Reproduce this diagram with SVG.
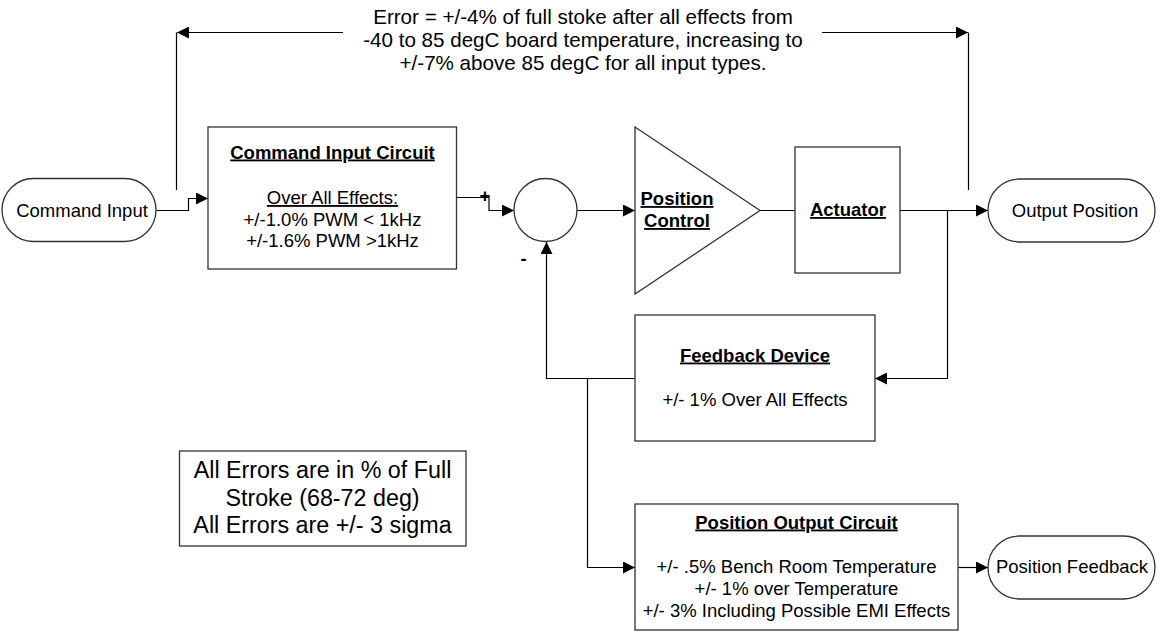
<svg xmlns="http://www.w3.org/2000/svg" width="1161" height="634" viewBox="0 0 1161 634">
<defs>
<marker id="arr" markerUnits="userSpaceOnUse" markerWidth="13" markerHeight="12" refX="12" refY="6" orient="auto">
<path d="M0,0 L12,6 L0,12 z" fill="#000"/>
</marker>
<style>
.box{fill:#fff;stroke:#333;stroke-width:1.3}
.ln{fill:none;stroke:#000;stroke-width:1.2}
.t{font-family:"Liberation Sans",Arial,sans-serif;font-size:18.5px;fill:#000;text-anchor:middle}
.b{font-weight:bold;text-decoration:underline}
.u{text-decoration:underline}
.top{font-size:20.6px}
.note{font-size:23.3px}
</style>
</defs>
<rect width="1161" height="634" fill="#fff"/>
<g id="connectors">
<path class="ln" d="M343,32.5 H177" marker-end="url(#arr)"/>
<path class="ln" d="M176.5,32.5 V190"/>
<path class="ln" d="M822,32.5 H968" marker-end="url(#arr)"/>
<path class="ln" d="M968.5,32.5 V190"/>
<path class="ln" d="M156,210.5 H188.5 V198.5 H208" marker-end="url(#arr)"/>
<path class="ln" d="M456.5,197.5 H489 V210.5 H514" marker-end="url(#arr)"/>
<path class="ln" d="M577,210.5 H635" marker-end="url(#arr)"/>
<path class="ln" d="M760,210.5 H795"/>
<path class="ln" d="M900,210.5 H988" marker-end="url(#arr)"/>
<path class="ln" d="M947.5,210.5 V378.5 H875" marker-end="url(#arr)"/>
<path class="ln" d="M635,378.5 H546.5 V242" marker-end="url(#arr)"/>
<path class="ln" d="M587.5,378.5 V567.5 H635" marker-end="url(#arr)"/>
<path class="ln" d="M958,567.5 H988" marker-end="url(#arr)"/>
<text class="t" x="485" y="201.5" font-weight="bold">+</text>
<text class="t" x="523.5" y="265" font-weight="bold">-</text>
</g>
<g id="errorText">
<text class="t top" x="583" y="24">Error = +/-4% of full stoke after all effects from</text>
<text class="t top" x="583" y="47">-40 to 85 degC board temperature, increasing to</text>
<text class="t top" x="583" y="70">+/-7% above 85 degC for all input types.</text>
</g>
<g id="commandInput">
<rect class="box" x="2" y="178.5" width="154" height="63" rx="31.5"/>
<text class="t" x="82" y="216.5">Command Input</text>
</g>
<g id="commandInputCircuit">
<rect class="box" x="208" y="127" width="248.5" height="142"/>
<text class="t b" x="332.5" y="158.5">Command Input Circuit</text>
<text class="t u" x="332.5" y="204">Over All Effects:</text>
<text class="t" x="332.5" y="225.5">+/-1.0% PWM &lt; 1kHz</text>
<text class="t" x="332.5" y="247">+/-1.6% PWM &gt;1kHz</text>
</g>
<g id="summingJunction">
<circle class="box" cx="545.5" cy="210" r="31.5"/>
</g>
<g id="positionControl">
<path class="box" d="M635,127 L760,210.5 L635,294 Z"/>
<text class="t b" x="677" y="205">Position</text>
<text class="t b" x="677" y="227">Control</text>
</g>
<g id="actuator">
<rect class="box" x="795" y="147" width="105" height="126"/>
<text class="t b" x="848" y="216">Actuator</text>
</g>
<g id="outputPosition">
<rect class="box" x="988" y="179" width="167" height="63" rx="31.5"/>
<text class="t" x="1075" y="216.5">Output Position</text>
</g>
<g id="feedbackDevice">
<rect class="box" x="635" y="315" width="240" height="126"/>
<text class="t b" x="755" y="361.5">Feedback Device</text>
<text class="t" x="755" y="406">+/- 1% Over All Effects</text>
</g>
<g id="positionOutputCircuit">
<rect class="box" x="635" y="504" width="323" height="126"/>
<text class="t b" x="796.5" y="528.5">Position Output Circuit</text>
<text class="t" x="796.5" y="572.5">+/- .5% Bench Room Temperature</text>
<text class="t" x="796.5" y="595">+/- 1% over Temperature</text>
<text class="t" x="796.5" y="617">+/- 3% Including Possible EMI Effects</text>
</g>
<g id="positionFeedback">
<rect class="box" x="988" y="536" width="167" height="63" rx="31.5"/>
<text class="t" x="1072" y="572.5">Position Feedback</text>
</g>
<g id="note">
<rect class="box" x="179.5" y="451" width="286.5" height="95"/>
<text class="t note" x="322.5" y="478">All Errors are in % of Full</text>
<text class="t note" x="322.5" y="505.5">Stroke (68-72 deg)</text>
<text class="t note" x="322.5" y="533">All Errors are +/- 3 sigma</text>
</g>
</svg>
